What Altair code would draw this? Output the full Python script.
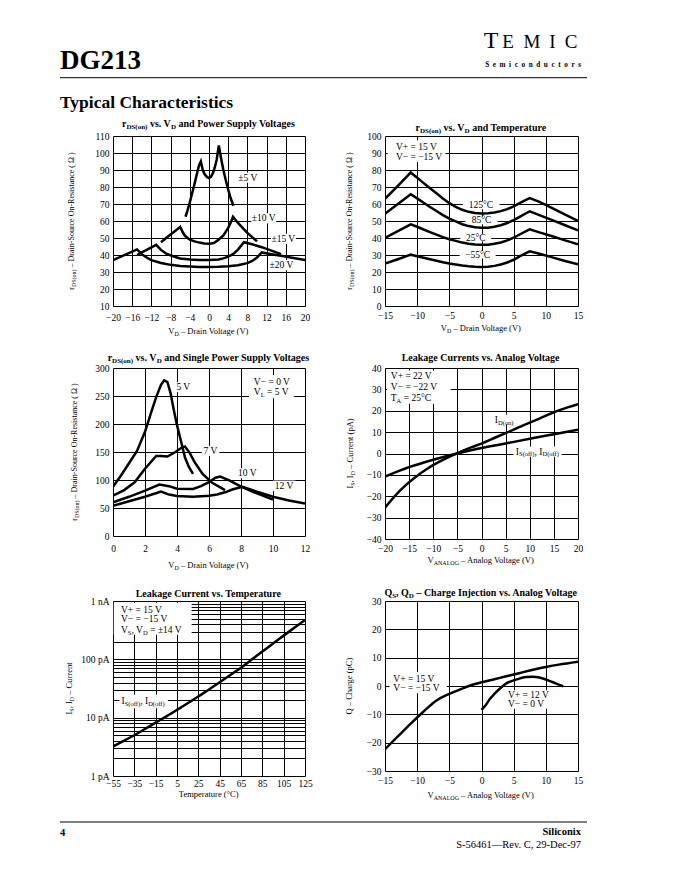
import altair as alt
import pandas as pd

FONT = "Liberation Serif"
MAIN = 9.5
SUB = 6.5

# ---------------- page texts ----------------
page_part = "DG213"
page_section = "Typical Characteristics"
brand_big = "T"
brand_letters = ["E", "M", "I", "C"]
brand_sub = "\u2002".join("Semiconductors")
footer_page = "4"
footer_company = "Siliconix"
footer_doc = "S-56461\u2014Rev. C, 29-Dec-97"

# ---------------- panel 1: rDS(on) vs VD and power supply ----------------
p1_5v_x = [-4.9, -4.5, -4.0, -3.5, -3.0, -2.5, -2.1, -1.7, -1.3, -0.9, -0.4, 0.0, 0.4, 0.8, 1.2, 1.6, 2.05, 2.5, 3.0, 3.5, 4.0, 4.5, 5.1]
p1_5v_y = [62.5, 66, 71, 76.5, 82, 88, 92.5, 95, 90, 87.5, 85.8, 85.3, 86, 88, 91.5, 96, 104.5, 97, 90, 84, 78.5, 73.5, 69]
p1_10v_x = [-10, -9, -8, -7, -6, -5.5, -5, -4, -3, -2, -1, 0, 1, 2, 3, 4, 4.6, 5, 6, 7, 8, 9, 10]
p1_10v_y = [47.5, 49.8, 52, 54.3, 56.5, 53.5, 51.3, 49, 48, 47.3, 46.8, 46.6, 47, 49, 51.5, 56, 59.5, 62.5, 59, 56, 53, 50.5, 48]
p1_15v_x = [-15, -14, -13, -12, -11, -10, -9, -8, -7, -6, -4, -2, 0, 2, 3, 4, 5, 6, 6.7, 7.3, 9, 11, 13, 15]
p1_15v_y = [40, 41.5, 43, 44.5, 46, 43, 41, 39.8, 38.8, 38, 37.3, 37, 37, 37.4, 38, 39, 40.5, 43, 45.5, 47.5, 46.3, 44.6, 42.6, 40.5]
p1_20v_x = [-20, -18, -16, -15, -14, -13, -12, -10, -8, -6, -4, -2, 0, 2, 4, 6, 8, 9, 10, 11, 13, 15, 17, 20]
p1_20v_y = [37, 39.5, 42, 43.3, 40.5, 38.5, 37, 35.3, 34.2, 33.5, 33.2, 33, 33, 33.1, 33.4, 34, 35.2, 36.5, 38.5, 41.5, 40.5, 39.5, 38.5, 37]
p1_xticks = [-20, -16, -12, -8, -4, 0, 4, 8, 12, 16, 20]
p1_yticks = [10, 20, 30, 40, 50, 60, 70, 80, 90, 100, 110]
p1_labels = [([("\u00b15 V", 0)], 8.1, 85.5, "center"), ([("\u00b110 V", 0)], 11.4, 61.5, "center"),
             ([("\u00b115 V", 0)], 15.5, 49.5, "center"), ([("\u00b120 V", 0)], 15.1, 34, "center")]
p1_boxes = [(6.1, 10.1, 82.5, 88.5), (8.8, 14.0, 58.5, 64.5), (12.9, 18.1, 46.5, 52.5), (12.5, 17.7, 31, 37)]

# ---------------- panel 2: rDS(on) vs VD and temperature ----------------
p2_x = [-15, -13, -11, -10, -9, -8, -7, -6, -5, -4, -3, -2, -1, 0, 1, 2, 3, 4, 5, 6, 7, 7.5, 9, 11, 13, 15]
p2_125 = [63, 70.7, 78.5, 75.5, 72.3, 69.3, 66.3, 63.2, 60.5, 58.3, 56.6, 55.4, 54.7, 54.4, 54.5, 55, 55.8, 57, 58.6, 60.6, 62.6, 63.5, 61.3, 57.6, 53.8, 50]
p2_85 = [54.3, 60, 65.7, 63.3, 60.7, 58.2, 55.9, 53.5, 51.4, 49.8, 48.1, 47, 46.3, 46, 46.1, 46.6, 47.5, 48.8, 50.5, 52.6, 54.7, 55.7, 53.5, 50.5, 47.5, 44.5]
p2_25 = [40, 44, 48, 46.6, 45, 43.5, 42, 40.5, 39.3, 38.3, 37.3, 36.6, 36.2, 36, 36.1, 36.6, 37.4, 38.6, 40.2, 42.2, 44.2, 45.1, 43.3, 41, 38.6, 36.3]
p2_m55 = [24.9, 27.5, 30.2, 29.3, 28.4, 27.5, 26.6, 25.7, 25, 24.4, 23.8, 23.4, 23.1, 23, 23.1, 23.6, 24.4, 25.6, 27.2, 29.3, 31.3, 32.2, 30.7, 28.6, 26.5, 24.5]
p2_xticks = [-15, -10, -5, 0, 5, 10, 15]
p2_yticks = [0, 10, 20, 30, 40, 50, 60, 70, 80, 90, 100]
p2_labels = [([("V+ = 15 V", 0)], -13.3, 93.5, "left"), ([("V\u2212 = \u221215 V", 0)], -13.3, 87.6, "left"),
             ([("125\u00b0C", 0)], -0.1, 59.2, "center"), ([("85\u00b0C", 0)], 0, 50.4, "center"),
             ([("25\u00b0C", 0)], -0.9, 40.2, "center"), ([("\u221255\u00b0C", 0)], -0.6, 30.2, "center")]
p2_boxes = [(-14.6, -5.6, 84.7, 97.5), (-2.9, 2.8, 56.9, 61.5), (-2.5, 2.5, 48.1, 52.7),
            (-3.3, 1.5, 38, 42.4), (-3.4, 2.2, 28, 32.4)]

# ---------------- panel 3: single supply ----------------
p3_5_x = [0, 0.5, 1.0, 1.5, 2.0, 2.4, 2.7, 3.0, 3.2, 3.4, 3.6, 3.8, 4.0, 4.2, 4.5, 4.75, 5.0]
p3_5_y = [88, 108, 130, 152, 186, 222, 248, 270, 278, 275, 255, 225, 198, 175, 140, 123, 111]
p3_7_x = [0, 0.7, 1.35, 2.0, 2.7, 3.0, 3.4, 3.9, 4.3, 4.5, 4.8, 5.1, 5.6, 6.2, 7.0]
p3_7_y = [72, 82, 96, 120, 143, 143, 142, 150, 158, 160, 148, 132, 111, 95, 82]
p3_10_x = [0, 1, 2, 2.9, 3.5, 4.0, 5.0, 5.5, 6.0, 6.4, 6.7, 7.3, 8.0, 9.0, 10.0]
p3_10_y = [60, 70, 81, 92, 89, 84.5, 84, 89, 96, 104, 106, 99, 88, 76, 65]
p3_12_x = [0, 1, 2, 3.0, 3.5, 4.0, 5.0, 6.0, 6.5, 7.0, 7.5, 8.1, 9.0, 10.0, 11.0, 12.0]
p3_12_y = [54, 62, 70, 79.5, 74, 71.5, 70, 72, 74, 78, 83.5, 88, 79, 70, 63.5, 58]
p3_xticks = [0, 2, 4, 6, 8, 10, 12]
p3_yticks = [0, 50, 100, 150, 200, 250, 300]
p3_labels = [([("5 V", 0)], 4.4, 266, "center"), ([("7 V", 0)], 6.1, 152, "center"),
             ([("10 V", 0)], 8.4, 112, "center"), ([("12 V", 0)], 10.7, 89.6, "center"),
             ([("V\u2212 = 0 V", 0)], 8.8, 275, "left"),
             ([("V", 0), ("L", 1), (" = 5 V", 0)], 8.8, 257, "left")]
p3_boxes = [(3.9, 4.9, 257, 275), (5.55, 6.65, 143, 161), (7.7, 9.1, 103, 121),
            (10.0, 11.4, 80, 99), (8.5, 11.3, 246, 287)]

# ---------------- panel 4: leakage vs analog voltage ----------------
p4_on_x = [-20, -17, -14, -11, -8, -5, -2, 0, 3, 6, 9, 12, 15, 18, 20]
p4_on_y = [-25.3, -17.6, -11.6, -6.8, -3.0, 0.2, 3.0, 4.6, 7.6, 10.5, 13.5, 16.3, 19.3, 21.7, 23.1]
p4_off_x = [-20, -15, -10, -5, 0, 5, 10, 15, 20]
p4_off_y = [-10.8, -6.4, -2.9, 0.0, 2.6, 4.7, 6.9, 9.0, 11.1]
p4_xticks = [-20, -15, -10, -5, 0, 5, 10, 15, 20]
p4_yticks = [-40, -30, -20, -10, 0, 10, 20, 30, 40]
p4_labels = [([("V+ = 22 V", 0)], -18.8, 36.1, "left"), ([("V\u2212 = \u221222 V", 0)], -18.8, 31, "left"),
             ([("T", 0), ("A", 1), (" = 25\u00b0C", 0)], -18.8, 26, "left"),
             ([("I", 0), ("D(on)", 1)], 4.7, 15.8, "center"),
             ([("I", 0), ("S(off)", 1), (", I", 0), ("D(off)", 1)], 11.6, 0.9, "center")]
p4_boxes = [(-19.6, -6.4, 23.3, 38.8), (3.2, 6.2, 13.6, 18.2), (6.6, 16.6, -1.5, 3.3)]

# ---------------- panel 5: leakage vs temperature (log) ----------------
p5_x = [-55, -45, -35, -25, -15, -5, 5, 15, 25, 35, 45, 55, 65, 75, 85, 95, 105, 115, 125]
p5_y = [3.2, 4.0, 5.0, 6.4, 8.2, 10.5, 13.6, 17.7, 23, 30.5, 40.5, 54, 72, 99, 136, 187, 255, 348, 472]
p5_xticks = [-55, -35, -15, 5, 25, 45, 65, 85, 105, 125]
p5_yticks = [1, 2, 3, 4, 5, 6, 7, 8, 9, 10, 20, 30, 40, 50, 60, 70, 80, 90,
             100, 200, 300, 400, 500, 600, 700, 800, 900, 1000]
p5_ylabels = {1: "1 pA", 10: "10 pA", 100: "100 pA", 1000: "1 nA"}
p5_labels = [([("V+ = 15 V", 0)], -47.5, 700, "left"), ([("V\u2212 = \u221215 V", 0)], -47.5, 490, "left"),
             ([("V", 0), ("S", 1), (", V", 0), ("D", 1), (" = \u00b114 V", 0)], -47.5, 316, "left"),
             ([("I", 0), ("S(off)", 1), (", I", 0), ("D(off)", 1)], -47, 19, "left")]
p5_boxes = [(-54.3, 18.7, 265, 930), (-49, -3.5, 14.5, 25)]

# ---------------- panel 6: charge injection ----------------
p6_a_x = [-15, -13, -11, -9, -7, -5, -3, -1, 0, 2, 4, 6, 8, 10, 12, 15]
p6_a_y = [-22.3, -17.8, -13.3, -9, -5.1, -2.8, -0.9, 0.7, 1.3, 2.4, 3.5, 4.6, 5.75, 6.7, 7.55, 8.6]
p6_b_x = [0, 0.7, 1.3, 2.0, 3.0, 4.0, 5.0, 6.0, 7.0, 8.0, 9.0, 10.0, 11.0, 12.0, 12.7]
p6_b_y = [-8.4, -6.6, -4.6, -2.8, -0.6, 1.1, 2.0, 2.7, 3.2, 3.3, 3.0, 2.3, 1.4, 0.5, -0.1]
p6_xticks = [-15, -10, -5, 0, 5, 10, 15]
p6_yticks = [-30, -20, -10, 0, 10, 20, 30]
p6_labels = [([("V+ = 15 V", 0)], -13.7, 2.5, "left"), ([("V\u2212 = \u221215 V", 0)], -13.7, -0.8, "left"),
             ([("V+ = 12 V", 0)], 4.1, -3.1, "left"), ([("V\u2212 = 0 V", 0)], 4.1, -6.4, "left")]
p6_boxes = [(-14.3, -5.4, -2.6, 4.9), (3.6, 10.6, -8.0, -1.5)]

# ---------------- titles (segments: text, is_subscript) ----------------
T1 = [("r", 0), ("DS(on)", 1), (" vs. V", 0), ("D", 1), (" and Power Supply Voltages", 0)]
T2 = [("r", 0), ("DS(on)", 1), (" vs. V", 0), ("D", 1), (" and Temperature", 0)]
T3 = [("r", 0), ("DS(on)", 1), (" vs. V", 0), ("D", 1), (" and Single Power Supply Voltages", 0)]
T4 = [("Leakage Currents vs. Analog Voltage", 0)]
T5 = [("Leakage Current vs. Temperature", 0)]
T6 = [("Q", 0), ("S", 1), (", Q", 0), ("D", 1), (" \u2013 Charge Injection vs. Analog Voltage", 0)]
Y_R = [("r", 0), ("DS(on)", 1), (" \u2013 Drain-Source On-Resistance ( \u03a9 )", 0)]
X_VD = [("V", 0), ("D", 1), (" \u2013 Drain Voltage (V)", 0)]
X_VA = [("V", 0), ("ANALOG", 1), (" \u2013 Analog Voltage (V)", 0)]
Y_I4 = [("I", 0), ("S", 1), (", I", 0), ("D", 1), (" \u2013 Current (pA)", 0)]
Y_I5 = [("I", 0), ("S", 1), (", I", 0), ("D", 1), (" \u2013 Current", 0)]
Y_Q = [("Q \u2013 Charge (pC)", 0)]
X_T = [("Temperature (\u00b0C)", 0)]

# Times / Liberation Serif advance widths (em), for laying out subscript pieces
REG_W = dict(zip("abcdefghijklmnopqrstuvwxyz",
                 [.444, .5, .444, .5, .444, .333, .5, .5, .278, .278, .5, .278, .778, .5, .5, .5, .5, .333,
                  .389, .278, .5, .5, .722, .5, .5, .444]))
REG_W.update(zip("ABCDEFGHIJKLMNOPQRSTUVWXYZ",
                 [.722, .667, .667, .722, .611, .556, .722, .722, .333, .389, .722, .611, .889, .722, .722,
                  .556, .722, .667, .556, .611, .722, .722, .944, .722, .722, .611]))
REG_W.update({" ": .25, "(": .333, ")": .333, ".": .25, ",": .25, "\u2013": .5, "-": .333, "=": .564,
              "+": .564, "\u2212": .564, "\u00b1": .549, "\u00b0": .4, "\u03a9": .768})
BOLD_W = dict(zip("abcdefghijklmnopqrstuvwxyz",
                  [.5, .556, .444, .556, .444, .333, .5, .556, .278, .333, .556, .278, .833, .556, .5, .556,
                   .556, .444, .389, .333, .556, .5, .722, .5, .5, .444]))
BOLD_W.update(zip("ABCDEFGHIJKLMNOPQRSTUVWXYZ",
                  [.722, .667, .722, .722, .667, .611, .778, .778, .389, .5, .778, .667, .944, .722, .778,
                   .611, .778, .722, .556, .667, .722, .722, 1.0, .722, .722, .667]))
BOLD_W.update({" ": .25, "(": .333, ")": .333, ".": .25, ",": .25, "\u2013": .5, "-": .333})

dummy = pd.DataFrame({"a": [0]})


def rich(segs, xenc, yenc, main, sub, align="left", angle=0, bold=False, data=None):
    table = BOLD_W if bold else REG_W
    sizes = [sub if s else main for _, s in segs]
    widths = [sum(table.get(c, 0.5) for c in t) * sz for (t, _), sz in zip(segs, sizes)]
    off = -sum(widths) / 2 if align == "center" else 0.0
    src = data if data is not None else dummy
    out = []
    for (t, s), sz, wd in zip(segs, sizes, widths):
        lead = len(t) - len(t.lstrip(" "))
        kw = dict(text=t.strip(" "), align="left", baseline="middle", font=FONT, fontSize=sz,
                  color="black", dx=off + lead * 0.25 * sz, dy=round(main * 0.3, 2) if s else 0)
        if angle:
            kw["angle"] = angle
        if bold:
            kw["fontWeight"] = "bold"
        out.append(alt.Chart(src).mark_text(**kw).encode(x=xenc(), y=yenc()))
        off += wd
    return out


def panel(series, boxes, labels, xdom, ydom, xticks, yticks, w, h, tsegs, ty,
          xsegs, ysegs, ytx, xty, xlp, ytsize=8.5, ylog=False, ylabexpr=None, interp="linear"):
    xs = alt.Scale(domain=xdom, nice=False, zero=False)
    if ylog:
        ys = alt.Scale(type="log", domain=ydom, nice=False)
    else:
        ys = alt.Scale(domain=ydom, nice=False, zero=False)
    xax = alt.Axis(values=xticks, title="", labelPadding=xlp, labelBaseline="middle",
                   labelFlush=False, labelOverlap=False)
    yargs = dict(values=yticks, title="", labelPadding=4, labelFlush=False, labelOverlap=False)
    if ylabexpr:
        yargs["labelExpr"] = ylabexpr
    yax = alt.Axis(**yargs)

    def X():
        return alt.X("x:Q", scale=xs, axis=xax)

    def Y():
        return alt.Y("y:Q", scale=ys, axis=yax)

    bdf = pd.DataFrame(boxes, columns=["x", "x2", "y", "y2"])
    rect = alt.Chart(bdf).mark_rect(fill="white", strokeWidth=0).encode(
        x=X(), x2="x2:Q", y=Y(), y2="y2:Q")
    ldf = pd.DataFrame([{"x": x, "y": y, "s": name}
                        for name, (xv, yv) in series.items() for x, y in zip(xv, yv)])
    line = alt.Chart(ldf).mark_line(color="black", strokeWidth=2.5, interpolate=interp,
                                    clip=True).encode(x=X(), y=Y(), detail="s:N")
    layers = [rect, line]
    for segs, x, y, align in labels:
        layers += rich(segs, X, Y, MAIN, SUB, align=align, data=pd.DataFrame({"x": [x], "y": [y]}))
    # chart title, axis titles
    layers += rich(tsegs, lambda: alt.value(w / 2), lambda: alt.value(ty), 10, 7, align="center", bold=True)
    layers += rich(xsegs, lambda: alt.value(w / 2), lambda: alt.value(h + xty), 8.5, 6, align="center")
    layers += rich(ysegs, lambda: alt.value(ytx), lambda: alt.value(h / 2), ytsize, 6, align="center",
                   angle=270)
    return alt.layer(*layers).properties(width=w, height=h)


p1 = panel({"5": (p1_5v_x, p1_5v_y), "10": (p1_10v_x, p1_10v_y),
            "15": (p1_15v_x, p1_15v_y), "20": (p1_20v_x, p1_20v_y)},
           p1_boxes, p1_labels, [-20, 20], [10, 110], p1_xticks, p1_yticks, 192, 170,
           T1, -12, X_VD, Y_R, -41, 25, 11, ytsize=8)
p2 = panel({"125": (p2_x, p2_125), "85": (p2_x, p2_85), "25": (p2_x, p2_25), "m55": (p2_x, p2_m55)},
           p2_boxes, p2_labels, [-15, 15], [0, 100], p2_xticks, p2_yticks, 193, 170,
           T2, -8, X_VD, Y_R, -35, 22, 9, ytsize=8)
p3 = panel({"5": (p3_5_x, p3_5_y), "7": (p3_7_x, p3_7_y), "10": (p3_10_x, p3_10_y), "12": (p3_12_x, p3_12_y)},
           p3_boxes, p3_labels, [0, 12], [0, 300], p3_xticks, p3_yticks, 192, 168,
           T3, -10, X_VD, Y_R, -38, 29, 12, ytsize=8)
p4 = panel({"on": (p4_on_x, p4_on_y), "off": (p4_off_x, p4_off_y)},
           p4_boxes, p4_labels, [-20, 20], [-40, 40], p4_xticks, p4_yticks, 193, 171,
           T4, -10, X_VA, Y_I4, -35, 21, 9, interp="monotone")
lab_expr = " : ".join([f"datum.value == {k} ? '{v}'" for k, v in p5_ylabels.items()]) + " : ''"
p5 = panel({"off": (p5_x, p5_y)}, p5_boxes, p5_labels, [-55, 125], [1, 1000], p5_xticks, p5_yticks,
           192, 175, T5, -7, X_T, Y_I5, -44, 18, 7, ylog=True, ylabexpr=lab_expr, interp="monotone")
p6 = panel({"a": (p6_a_x, p6_a_y), "b": (p6_b_x, p6_b_y)}, p6_boxes, p6_labels, [-15, 15], [-30, 30],
           p6_xticks, p6_yticks, 193, 170, T6, -8, X_VA, Y_Q, -36, 24, 9, interp="monotone")


def txt(s, x, y, size, weight="normal", align="left"):
    return alt.Chart(dummy).mark_text(text=s, font=FONT, fontSize=size, fontWeight=weight, align=align,
                                      baseline="alphabetic", color="black").encode(
        x=alt.value(x), y=alt.value(y))


def hrule(x1, x2, y):
    return alt.Chart(dummy).mark_rule(color="black", strokeWidth=1).encode(
        x=alt.value(x1), x2=alt.value(x2), y=alt.value(y))


brand_layers = [txt(brand_big, 106, 28, 24, align="center")]
for letter, cx in zip(brand_letters, [123, 147, 167.5, 186]):
    brand_layers.append(txt(letter, cx, 28, 19, align="center"))
brand_layers.append(txt(brand_sub, 196, 47, 7.2, "bold", align="right"))

head_left = alt.layer(txt(page_part, -53, 49, 27, "bold"), hrule(-53, 474, 57.7),
                      txt(page_section, -53, 88, 17.5, "bold")).properties(width=192, height=54)
head_right = alt.layer(*brand_layers).properties(width=193, height=54)
foot_left = alt.layer(hrule(-53, 474, -16), txt(footer_page, -53, -2, 10.5, "bold")).properties(width=192, height=10)
foot_right = alt.layer(txt(footer_company, 196, -3, 10.5, "bold", align="right"),
                       txt(footer_doc, 196, 10, 10.5, align="right")).properties(width=193, height=10)

chart = alt.concat(head_left, head_right, p1, p2, p3, p4, p5, p6, foot_left, foot_right,
                   columns=2, spacing={"row": 62, "column": 80}, bounds="flush", align="each")
chart = chart.properties(padding={"left": 51, "top": 12, "right": 5, "bottom": 5},
                         background="white")
chart = chart.configure_view(stroke=None).configure_axis(
    labelFont=FONT, labelFontSize=9.5, labelColor="black", grid=True, gridColor="black", gridWidth=1,
    gridOpacity=1, domain=False, ticks=False, tickSize=0)

chart.save("out.html", embed_options={"renderer": "svg", "actions": False})
